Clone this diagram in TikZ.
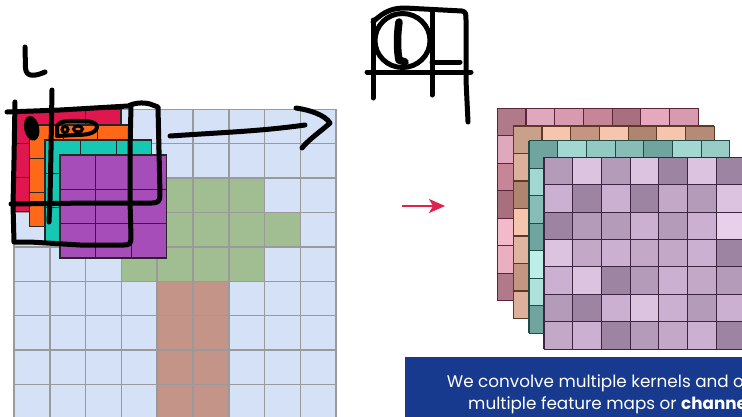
\documentclass[tikz,border=0pt]{standalone}
\usepackage{fontspec}
\newfontfamily\bannerfont{Poppins}
\usetikzlibrary{arrows.meta}

% input grid
\definecolor{gridfill}{HTML}{D4E1F7}
\definecolor{gridline}{HTML}{9A9A9A}
\definecolor{leaf}{HTML}{A0BE92}
\definecolor{trunk}{HTML}{C49489}
% kernels
\definecolor{kred}{HTML}{E0174F}
\definecolor{korange}{HTML}{FF6818}
\definecolor{kteal}{HTML}{16C7B4}
\definecolor{kpurple}{HTML}{A64DB9}
\definecolor{kedge}{HTML}{262626}
% feature maps: pink
\definecolor{pkA}{HTML}{E0A8BC}\definecolor{pkB}{HTML}{D89AAE}
\definecolor{pkC}{HTML}{C68698}\definecolor{pkD}{HTML}{B07A8A}
\definecolor{pkE}{HTML}{A8707E}\definecolor{pkF}{HTML}{E5A8BC}
\definecolor{pkG}{HTML}{F2BACB}\definecolor{pkH}{HTML}{EAB0C2}
\definecolor{pkLine}{HTML}{5C2438}
% tan
\definecolor{tnA}{HTML}{C9A089}\definecolor{tnB}{HTML}{F5C5AD}
\definecolor{tnC}{HTML}{C49580}\definecolor{tnD}{HTML}{B08570}
\definecolor{tnE}{HTML}{B58A77}\definecolor{tnF}{HTML}{DDB09C}
\definecolor{tnG}{HTML}{E0B49E}
\definecolor{tnLine}{HTML}{5E3A24}
% teal
\definecolor{tlA}{HTML}{6FA59E}\definecolor{tlB}{HTML}{A3D8D2}
\definecolor{tlC}{HTML}{93C9C3}\definecolor{tlD}{HTML}{88BDB7}
\definecolor{tlE}{HTML}{98CCC6}\definecolor{tlF}{HTML}{BDEEE8}
\definecolor{tlG}{HTML}{B0E2DC}
\definecolor{tlLine}{HTML}{1F4A45}
% purple
\definecolor{ppD}{HTML}{9E84A3}\definecolor{ppM}{HTML}{B59BBA}
\definecolor{ppN}{HTML}{C4A8C8}\definecolor{ppK}{HTML}{CBB0D2}
\definecolor{ppL}{HTML}{DCC4E0}\definecolor{ppW}{HTML}{E8D0EA}
\definecolor{ppLine}{HTML}{3B2541}
% misc
\definecolor{banner}{HTML}{173A8F}
\definecolor{crimson}{HTML}{E0234E}

\tikzset{
  gridrule/.style={draw=gridline, line width=1.5pt},
  kline/.style={draw=kedge, line width=1.1pt},
  scribble/.style={draw=black, line width=5pt, line cap=round, line join=round},
  captext/.style={anchor=base west, inner sep=0pt, text=white,
    font=\bannerfont\fontsize{16.8}{20}\selectfont},
}

% 3x3 kernel: x, y, width, height, fill colour
\newcommand\kernelgrid[5]{%
  \fill[#5] (#1,#2) rectangle ++(#3,#4);
  \foreach \k in {1,2} {
    \draw[kline] ({#1+\k*#3/3},#2) -- ++(0,#4);
    \draw[kline] (#1,{#2+\k*#4/3}) -- ++(#3,0);
  }
  \draw[kline] (#1,#2) rectangle ++(#3,#4);
}

% 7x7 feature map seen from the front: x, y, top row, left column, base, edge
\newcommand\featmap[6]{%
  \fill[#5] (#1,#2) rectangle ++(200.9,192.5);
  \foreach \cc [count=\i from 0] in {#3}
    \fill[fill=\cc] ({#1+\i*28.7},#2) rectangle ++(28.7,27.5);
  \foreach \cc [count=\i from 0] in {#4}
    \fill[fill=\cc] (#1,{#2+\i*27.5}) rectangle ++(28.7,27.5);
  \foreach \k in {0,...,7} {
    \draw[draw=#6, line width=1.1pt] ({#1+\k*28.7},#2) -- ++(0,192.5);
    \draw[draw=#6, line width=1.1pt] (#1,{#2+\k*27.5}) -- ++(200.9,0);
  }
}

\begin{document}
\begin{tikzpicture}[x=1pt,y=-1pt]
\useasboundingbox (0,0) rectangle (742,416);
\clip (0,0) rectangle (742,416);
\fill[white] (0,0) rectangle (742,416);

% ---------- input image grid (9x9) ----------
\fill[gridfill] (14,109.3) rectangle ++(322.2,309.6);
\foreach \c/\r in {4/2,5/2,6/2,3/3,4/3,5/3,6/3,7/3,3/4,4/4,5/4,6/4}
  \fill[leaf] ({14+\c*35.8},{109.3+\r*34.4}) rectangle ++(35.8,34.4);
\foreach \r in {5,...,8}
  \foreach \c in {4,5}
    \fill[trunk] ({14+\c*35.8},{109.3+\r*34.4}) rectangle ++(35.8,34.4);
\foreach \i in {0,...,9} {
  \draw[gridrule] ({14+\i*35.8},109.3) -- ++(0,309.6);
  \draw[gridrule] (14,{109.3+\i*34.4}) -- ++(322.2,0);
}

% ---------- stacked kernels ----------
\kernelgrid{14}{109.3}{107}{102}{kred}
\kernelgrid{29.3}{125}{102}{101.7}{korange}
\kernelgrid{45}{140}{106.7}{101.7}{kteal}
\kernelgrid{60}{155}{106.7}{103}{kpurple}

% ---------- hand-drawn marks ----------
% letter L
\draw[scribble] (25,47) -- (25.5,68) .. controls (26,78) and (36,76) .. (45,72);
% outer window
\draw[scribble] (7,112) -- (60,110) -- (128,106)
  .. controls (134,103) and (142,102) .. (150,104) -- (158,107)
  -- (159,150) -- (160,195) .. controls (160,201) and (158,203) .. (152,203)
  -- (90,203) -- (11,204);
% shared left edge
\draw[scribble] (15,102) -- (14,160) -- (13,205) -- (14,242);
% inner window
\draw[scribble] (131,106) -- (130,150) -- (130,200) -- (131,238)
  .. controls (131,244) and (129,245) .. (124,245) -- (80,245) -- (30,242) -- (15,242);
% vertical stroke
\draw[scribble] (52,90) -- (51,150) -- (50,200) -- (49,222);
% filled dot
\fill[black, rotate around={12:(31.7,128.3)}] (31.7,128.3) ellipse [x radius=7.5, y radius=12.5];
% small loops
\draw[black, line width=4pt, line cap=round, line join=round]
  (57,136) -- (57,127) .. controls (58,120) and (70,121) .. (80,121)
  .. controls (90,121) and (97,122) .. (97,127)
  .. controls (96,134) and (85,135) .. (75,135) -- (58,136);
\draw[black, line width=3pt] (65,129.5) circle [radius=3];
\draw[black, line width=3pt] (78,129) ellipse [x radius=4.5, y radius=3];
% sliding arrow
\draw[scribble] (170,136) .. controls (230,132) and (262,131) .. (305,125);
\draw[scribble] (296,108) .. controls (310,110) and (325,115) .. (330,123)
  .. controls (320,132) and (308,140) .. (302,148);

% sketch at the top
\draw[scribble] (402.5,40.5) ellipse [x radius=27.5, y radius=27];
\draw[black, line width=7.5pt, line cap=round, line join=round]
  (399,22) .. controls (397,35) and (397,50) .. (399,60) -- (405,62);
\draw[scribble] (367,72) -- (471,72);
\draw[scribble] (373,20) -- (373,98);
\draw[scribble] (432,10) -- (432,95);
\draw[scribble] (432,62) -- (460,62);
\draw[scribble] (373,22) .. controls (385,10) and (395,8) .. (405,8) -- (462,11)
  .. controls (466,12) and (466,14) .. (466,20) -- (466,80) -- (468,122);

% ---------- red arrow ----------
\coordinate (arrS) at (402,206);
\coordinate (arrE) at (445,206);
\draw[crimson, line width=2pt, -{Stealth[length=16pt, width=14pt, inset=4pt]}] (arrS) -- (arrE);

% ---------- stacked feature maps ----------
\featmap{497.3}{108.3}{pkD,pkA,pkB,pkC,pkE,pkF,pkB}{pkD,pkA,pkC,pkE,pkG,pkH,pkD}{pkA}{pkLine}
\featmap{513.3}{126}{tnA,tnB,tnC,tnB,tnD,tnB,tnE}{tnA,tnF,tnD,tnB,tnG,tnC,tnF}{tnB}{tnLine}
\featmap{529}{140.7}{tlA,tlB,tlC,tlD,tlA,tlB,tlE}{tlA,tlB,tlD,tlA,tlF,tlG,tlA}{tlB}{tlLine}
% front map, every cell visible
\foreach \rowlist [count=\r from 0] in {
  {ppM,ppL,ppM,ppL,ppD,ppL,ppD},
  {ppK,ppD,ppK,ppD,ppN,ppM,ppL},
  {ppD,ppM,ppM,ppK,ppM,ppK,ppW},
  {ppL,ppN,ppK,ppN,ppN,ppK,ppD},
  {ppK,ppL,ppD,ppM,ppK,ppN,ppM},
  {ppM,ppD,ppK,ppL,ppK,ppM,ppK},
  {ppN,ppK,ppD,ppM,ppN,ppK,ppD}} {
  \foreach \cc [count=\c from 0] in \rowlist
    \fill[fill=\cc] ({544+\c*28.7},{157.3+\r*27.4}) rectangle ++(28.7,27.4);
}
\foreach \k in {0,...,7} {
  \draw[draw=ppLine, line width=1.1pt] ({544+\k*28.7},157.3) -- ++(0,191.8);
  \draw[draw=ppLine, line width=1.1pt] (544,{157.3+\k*27.4}) -- ++(200.9,0);
}

% ---------- caption banner ----------
\fill[banner] (405,357) rectangle (760,430);
\node[captext] (capA) at (446.7,387) {We convolve multiple kernels and obtain};
\node[captext] (capB) at (468,409) {multiple feature maps or \textbf{channels}.};
\end{tikzpicture}
\end{document}
